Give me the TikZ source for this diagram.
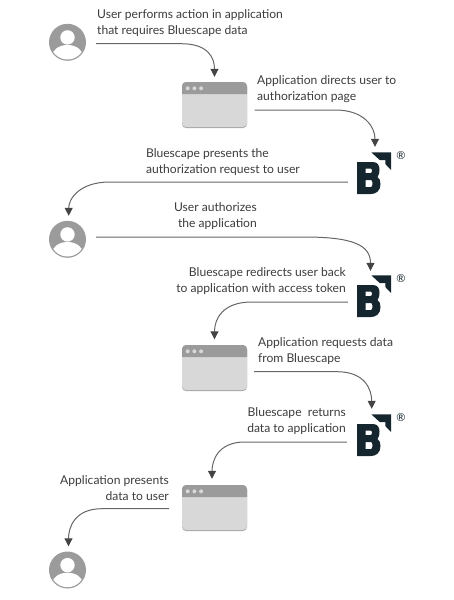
\documentclass[tikz,border=0pt]{standalone}
\usepackage{fontspec}
\setmainfont{Lato}
\usepackage{tikz}
\usetikzlibrary{arrows.meta,shadows}

\definecolor{icongray}{HTML}{9B9B9B}
\definecolor{panelgray}{HTML}{D8D8D8}
\definecolor{linegray}{HTML}{666666}
\definecolor{tipgray}{HTML}{444444}
\definecolor{logoink}{HTML}{15262E}
\definecolor{textgray}{HTML}{3C3C3C}

\tikzset{
  usericon/.style={circle,fill=icongray,minimum size=37pt,inner sep=0pt},
  appicon/.style={rectangle,rounded corners=4pt,fill=panelgray,minimum width=65pt,minimum height=45pt,inner sep=0pt,
    drop shadow={shadow xshift=0pt,shadow yshift=-1pt,fill=black,opacity=0.35}},
  logoicon/.style={rectangle,minimum width=36pt,minimum height=42pt,inner sep=0pt},
  caption/.style={font=\fontsize{12.1}{16}\selectfont,text=textgray,inner sep=0pt},
  flow/.style={draw=linegray,-{Triangle[length=8pt,width=8pt,color=tipgray]},line width=1pt},
  pics/userface/.style={code={
    \fill[white] (0,4.9) circle (7.2);
    \clip (0,0) circle (17.2);
    \fill[white] (0,-14) ellipse (15.5 and 11.3);
  }},
  pics/appface/.style={code={
    \fill[icongray] (-32.5,10.5) -- (-32.5,18.5) arc (180:90:4) -- (28.5,22.5) arc (90:0:4) -- (32.5,10.5) -- cycle;
    \foreach \dotx in {-26.8,-20.1,-13.4}
      \fill[panelgray] (\dotx,16.2) circle (2);
  }},
  pics/bluelogo/.style={code={
    \fill[logoink] (-3.7,20.7) -- (16,20.7) -- (16,3) -- (10.3,9) -- (10.3,13) -- (4.7,13) -- cycle;
    \fill[logoink,even odd rule] (-18,11) -- (-2,11) .. controls (3,11) and (4.5,7) .. (4.5,3.5)
      .. controls (4.5,0) and (3.5,-3) .. (2.5,-4) .. controls (4.5,-5) and (5.5,-8) .. (5.5,-11)
      .. controls (5.5,-18) and (1,-21) .. (-4,-21) -- (-18,-21) -- cycle
      (-9.5,4.5) -- (-4.5,4.5) .. controls (-2.5,4.5) and (-2.5,0) .. (-4.5,0) -- (-9.5,0) -- cycle
      (-9.5,-7) -- (-4,-7) .. controls (-2,-7) and (-2,-14) .. (-4,-14) -- (-9.5,-14) -- cycle;
    \node[font=\fontsize{11}{11}\selectfont,text=logoink,inner sep=0pt] (reg) at (26,17.3) {®};
  }}
}

\begin{document}
\begin{tikzpicture}[x=1pt,y=1pt]
\useasboundingbox (0,0) rectangle (454,-600);

% icons
\begin{scope}[every node/.style={usericon}]
    \node (user1) at (67.5,-42.3) {};
    \node (user2) at (67.5,-239.3) {};
    \node (user3) at (67.5,-570) {};
\end{scope}
\begin{scope}[every node/.style={appicon}]
    \node (app1) at (214.5,-104.5) {};
    \node (app2) at (214.5,-367.5) {};
    \node (app3) at (214.5,-507.5) {};
\end{scope}
\begin{scope}[every node/.style={logoicon}]
    \node (logo1) at (375,-173) {};
    \node (logo2) at (375,-296) {};
    \node (logo3) at (375,-435) {};
\end{scope}
\foreach \usr in {user1,user2,user3}
    \pic at (\usr) {userface};
\foreach \app in {app1,app2,app3}
    \pic at (\app) {appface};
\pic (mark1) at (logo1) {bluelogo};
\pic (mark2) at (logo2) {bluelogo};
\pic (mark3) at (logo3) {bluelogo};

% captions
\begin{scope}[every node/.style={caption}]
    \node (cap1) [anchor=west,align=left] at (97,-23) {User performs action in application\\that requires Bluescape data};
    \node (cap2) [anchor=west,align=left] at (257,-89) {Application directs user to\\authorization page};
    \node (cap3) [anchor=east,align=left] at (300,-162) {Bluescape presents the\\authorization request to user};
    \node (cap4) [anchor=east,align=right] at (257,-216) {User authorizes\\the application};
    \node (cap5) [anchor=east,align=right] at (346,-281.5) {Bluescape redirects user back\\to application with access token};
    \node (cap6) [anchor=west,align=left] at (258,-351) {Application requests data\\from Bluescape};
    \node (cap7) [anchor=east,align=right] at (346,-421) {Bluescape\ \ returns\\data to application};
    \node (cap8) [anchor=east,align=right] at (169,-488) {Application presents\\data to user};
\end{scope}

% connectors
\begin{scope}[every path/.style={flow}]
    \path [shorten <=10pt,shorten >=5pt] ([yshift=-1.4pt]user1.east) -- ++(95,0) .. controls +(26,0) and +(0,25) .. (app1.north);
    \path [shorten <=7.3pt,shorten >=5pt] ([yshift=-5.5pt]app1.east) -- ++(88,0) .. controls +(29,0) and +(0,25) .. (logo1.north);
    \path [shorten <=9pt,shorten >=4.8pt] ([yshift=-9pt]logo1.west) -- ++(-247,0) .. controls +(-30,0) and +(0,22) .. ([xshift=1.2pt]user2.north);
    \path [shorten <=10pt,shorten >=4pt] ([yshift=2.3pt]user2.east) -- ++(218,0) .. controls +(48,0) and +(0,30) .. ([xshift=-4.5pt]logo2.north);
    \path [shorten <=9pt,shorten >=5.5pt] ([yshift=-6pt]logo2.west) -- ++(-105,0) .. controls +(-30,0) and +(0,25) .. (app2.north);
    \path [shorten <=7pt,shorten >=5pt] ([yshift=-4.2pt]app2.east) -- ++(90,0) .. controls +(28,0) and +(0,24) .. ([xshift=-3.3pt]logo3.north);
    \path [shorten <=10pt,shorten >=6pt] ([yshift=-7pt]logo3.west) -- ++(-112,0) .. controls +(-27,0) and +(0,24) .. ([xshift=-2.5pt]app3.north);
    \path [shorten <=12.7pt,shorten >=5pt] ([yshift=-1.2pt]app3.west) -- ++(-80,0) .. controls +(-27,0) and +(0,24) .. ([xshift=1pt]user3.north);
\end{scope}
\end{tikzpicture}
\end{document}
